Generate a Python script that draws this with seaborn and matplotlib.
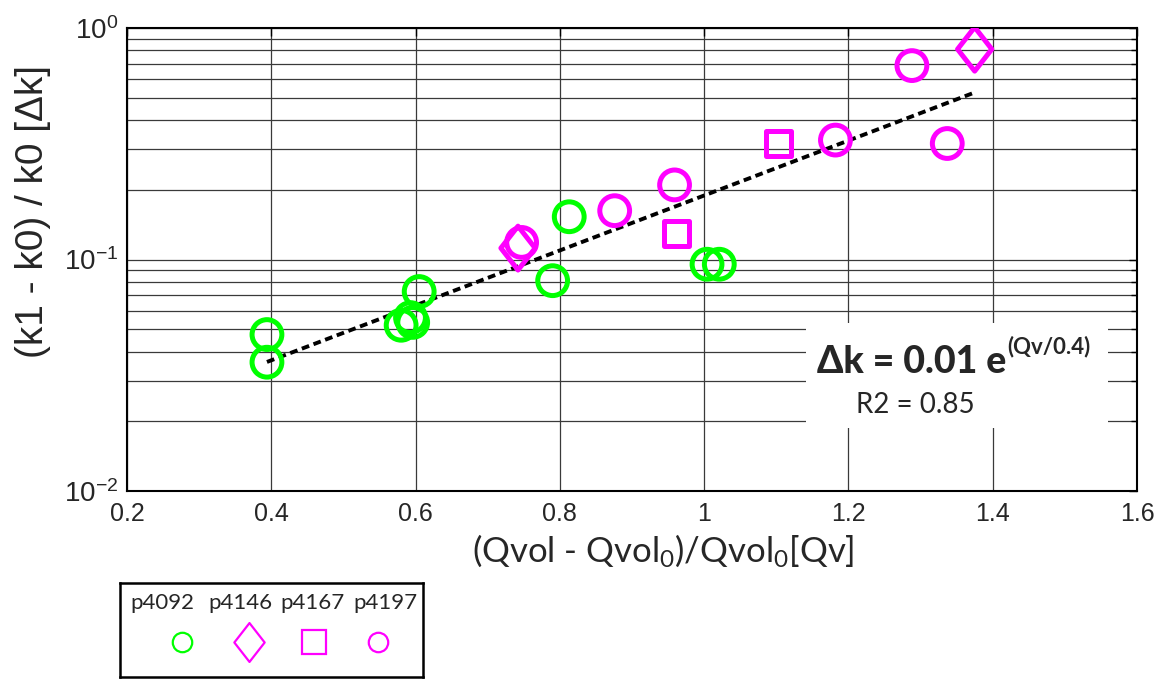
import numpy as np
import matplotlib
matplotlib.use("Agg")
import matplotlib.pyplot as plt
import matplotlib.ticker as mticker
from matplotlib.path import Path
from matplotlib.patches import Rectangle
import seaborn as sns

# ---------------- data ----------------
series_names = ["p4092", "p4146", "p4167", "p4197"]

p4092_x = [0.394, 0.394, 0.605, 0.593, 0.580, 0.596, 0.790, 0.813, 1.004, 1.021]
p4092_y = [0.0474, 0.036, 0.0727, 0.0561, 0.052, 0.0535, 0.081, 0.153, 0.0954, 0.0954]

p4146_x = [0.742, 1.375]
p4146_y = [0.112, 0.81]

p4167_x = [1.103, 0.962]
p4167_y = [0.317, 0.129]

p4197_x = [0.747, 0.876, 0.959, 1.182, 1.288, 1.337]
p4197_y = [0.1185, 0.1625, 0.21, 0.328, 0.688, 0.317]

# exponential fit drawn in the figure: y = a * exp(x / b)
fit_a = 0.0123
fit_b = 0.366
fit_x_range = [0.394, 1.375]

x_ticks = [0.2, 0.4, 0.6, 0.8, 1.0, 1.2, 1.4, 1.6]
x_tick_labels = ["0.2", "0.4", "0.6", "0.8", "1", "1.2", "1.4", "1.6"]

formula_main = "Δk = 0.01 e"
formula_sup = "(Qv/0.4)"
r2_text = "R2 = 0.85"
xlabel_text = "(Qvol - Qvol$_0$)/Qvol$_0$[Qv]"
ylabel_text = "(k1 - k0) / k0 [Δk]"

# ---------------- styling ----------------
sns.set_style("white")
plt.rcParams["font.family"] = ["Liberation Sans", "DejaVu Sans"]
plt.rcParams["mathtext.default"] = "regular"
plt.rcParams["axes.unicode_minus"] = True

GREEN = "#00FF00"
MAGENTA = "#FF00FF"
LATO = ["Lato", "DejaVu Sans"]

diamond = Path([(0, 1), (0.78, 0), (0, -1), (-0.78, 0), (0, 1)],
               [Path.MOVETO, Path.LINETO, Path.LINETO, Path.LINETO, Path.CLOSEPOLY])

styles = {
    "p4092": dict(color=GREEN, marker="o", s=460, ls=14),
    "p4146": dict(color=MAGENTA, marker=diamond, s=1000, ls=28),
    "p4167": dict(color=MAGENTA, marker="s", s=320, ls=17),
    "p4197": dict(color=MAGENTA, marker="o", s=460, ls=14),
}
data = {
    "p4092": (p4092_x, p4092_y),
    "p4146": (p4146_x, p4146_y),
    "p4167": (p4167_x, p4167_y),
    "p4197": (p4197_x, p4197_y),
}

fig = plt.figure(figsize=(11.66, 6.79), dpi=100)
L, R, T, B = 127, 1137, 28, 491
W, H = 1166, 679
ax = fig.add_axes([L / W, 1 - B / H, (R - L) / W, (B - T) / H])

ax.set_yscale("log")
ax.set_xlim(0.2, 1.6)
ax.set_ylim(0.01, 1.0)

# grid
ax.set_axisbelow(True)
ax.grid(True, which="major", axis="both", color="#3a3a3a", linewidth=0.9)
ax.grid(True, which="minor", axis="y", color="#3a3a3a", linewidth=0.9)

# fit line
fx = np.linspace(fit_x_range[0], fit_x_range[1], 50)
fy = fit_a * np.exp(fx / fit_b)
sns.lineplot(x=fx, y=fy, ax=ax, color="black", linewidth=2.8,
             linestyle=(0, (2.0, 1.2)), zorder=3)

# scatter series
for name in series_names:
    st = styles[name]
    xs, ys = data[name]
    sns.scatterplot(x=xs, y=ys, ax=ax, marker=st["marker"], s=st["s"],
                    color=st["color"], facecolor="none", edgecolor=st["color"],
                    linewidth=3.6, zorder=4)

# annotation box
ax.add_patch(Rectangle((0.672, 0.136), 0.299, 0.227, transform=ax.transAxes,
                       facecolor="white", edgecolor="none", zorder=2))
t1 = ax.text(0.683, 0.255, formula_main, transform=ax.transAxes,
             fontsize=27, fontweight=900, family=LATO,
             ha="left", va="baseline", zorder=5)
ax.annotate(formula_sup, xy=(1.0, 1.0), xycoords=t1, xytext=(1, 7),
            textcoords="offset points", fontsize=16, fontweight="bold",
            family=LATO, ha="left", va="top", zorder=5)
ax.text(0.781, 0.168, r2_text, transform=ax.transAxes, fontsize=20,
        family=LATO, ha="center", va="baseline", zorder=5)

# ticks
ax.set_xticks(x_ticks)
ax.set_xticklabels(x_tick_labels)
ax.yaxis.set_major_locator(mticker.LogLocator(base=10, numticks=10))
ax.yaxis.set_minor_locator(mticker.LogLocator(base=10, subs=np.arange(2, 10), numticks=20))
ax.yaxis.set_minor_formatter(mticker.NullFormatter())
ax.tick_params(axis="both", which="both", direction="in", top=True, right=True,
               color="black", width=1.0)
ax.tick_params(axis="both", which="major", length=6)
ax.tick_params(axis="x", which="major", labelsize=18, pad=8)
ax.tick_params(axis="y", which="major", labelsize=20, pad=6)
ax.tick_params(axis="y", which="minor", length=4)

for sp in ax.spines.values():
    sp.set_color("black")
    sp.set_linewidth(1.5)

ax.set_xlabel(xlabel_text, fontsize=25, family=LATO, va="top")
ax.xaxis.set_label_coords(0.531, -0.09)
ax.set_ylabel(ylabel_text, fontsize=28, va="center")
ax.yaxis.set_label_coords(-0.093, 0.603)

# legend box
lx0, ly0, lx1, ly1 = 120, 583, 423, 677
lax = fig.add_axes([lx0 / W, 1 - ly1 / H, (lx1 - lx0) / W, (ly1 - ly0) / H])
lax.set_xlim(0, 1)
lax.set_ylim(0, 1)
lax.set_xticks([])
lax.set_yticks([])
for sp in lax.spines.values():
    sp.set_visible(True)
    sp.set_color("black")
    sp.set_linewidth(1.8)
text_pos = [0.139, 0.396, 0.634, 0.875]
mark_pos = [0.205, 0.426, 0.64, 0.851]
for name, tx, mx in zip(series_names, text_pos, mark_pos):
    st = styles[name]
    lax.text(tx, 0.79, name, fontsize=16, family=LATO,
             ha="center", va="center")
    lax.plot([mx], [0.37], marker=st["marker"], markersize=st["ls"],
             markerfacecolor="none", markeredgecolor=st["color"],
             markeredgewidth=1.6, linestyle="none")

fig.savefig("out.png", dpi=100)
